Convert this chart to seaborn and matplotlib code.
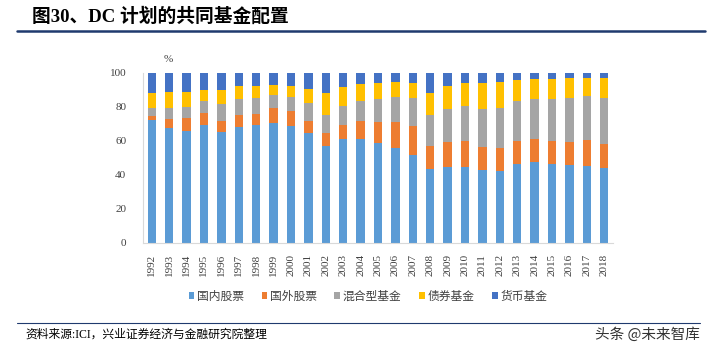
import numpy as np
import pandas as pd
import matplotlib
matplotlib.use("Agg")
import matplotlib.pyplot as plt
from matplotlib.lines import Line2D
from matplotlib.patches import Patch
import seaborn as sns

# ---------------------------
# Data (%)
# ---------------------------
years = [str(y) for y in range(1992, 2019)]
domestic = [72.1, 67.8, 65.8, 69.3, 65.2, 68.0, 69.2, 70.3, 68.8, 64.3, 57.2, 61.0, 61.0, 58.6,
            55.9, 51.8, 43.7, 44.5, 44.9, 43.1, 42.4, 46.5, 47.5, 46.5, 45.7, 45.3, 44.3]
foreign = [2.7, 5.1, 7.8, 6.9, 6.7, 7.2, 6.6, 8.8, 8.8, 7.6, 7.6, 8.3, 10.7, 12.5,
           15.2, 17.0, 13.3, 14.9, 14.9, 13.2, 13.1, 13.5, 13.4, 13.5, 13.9, 15.3, 14.1]
hybrid = [4.3, 6.6, 6.3, 7.2, 9.8, 9.4, 9.4, 7.8, 8.3, 10.2, 10.4, 11.4, 11.7, 13.5,
          14.7, 16.4, 18.2, 19.5, 20.9, 22.2, 23.6, 23.6, 23.5, 24.8, 25.8, 25.9, 26.8]
bond = [8.8, 9.0, 8.6, 6.5, 8.2, 7.6, 7.0, 5.9, 6.3, 8.2, 12.7, 10.7, 10.2, 9.6,
        8.9, 8.8, 13.1, 13.5, 13.5, 15.5, 15.6, 12.1, 11.9, 11.3, 11.3, 10.4, 11.5]
money = [12.1, 11.5, 11.5, 10.1, 10.1, 7.8, 7.8, 7.2, 7.8, 9.7, 12.1, 8.6, 6.4, 5.8,
         5.3, 6.0, 11.7, 7.6, 5.8, 6.0, 5.3, 4.3, 3.7, 3.9, 3.3, 3.1, 3.3]

series_names = ["国内股票", "国外股票", "混合型基金", "债券基金", "货币基金"]
colors = ["#5B9BD5", "#ED7D31", "#A5A5A5", "#FFC000", "#4472C4"]

df = pd.DataFrame({"year": years, "国内股票": domestic, "国外股票": foreign,
                   "混合型基金": hybrid, "债券基金": bond, "货币基金": money})
cum = df[series_names].cumsum(axis=1)

# ---------------------------
# Figure
# ---------------------------
sns.set_theme(style="white")
plt.rcParams["font.family"] = ["Liberation Serif", "Noto Sans CJK SC", "DejaVu Sans"]

fig = plt.figure(figsize=(7.1, 3.56), dpi=100)
ax = fig.add_axes([143 / 710, 1 - 243 / 356, 470 / 710, (243 - 72.7) / 356])

# stacked bars: draw cumulative totals from the top layer down
for name, col in reversed(list(zip(series_names, colors))):
    sns.barplot(x=df["year"], y=cum[name], color=col, width=0.48, linewidth=0,
                saturation=1, ax=ax)

ax.set_ylim(0, 100)
ax.set_xlim(-0.5, len(years) - 0.5)
ax.set_yticks([0, 20, 40, 60, 80, 100])
ax.set_xlabel("")
ax.set_ylabel("")
ax.tick_params(axis="y", labelsize=8, pad=12, length=0, colors="#404040")
ax.tick_params(axis="x", labelsize=8, pad=8, length=0, rotation=90, colors="#404040")
for s in ["top", "right"]:
    ax.spines[s].set_visible(False)
for s in ["left", "bottom"]:
    ax.spines[s].set_color("#D9D9D9")
    ax.spines[s].set_linewidth(0.8)

fig.text(168 / 710, 1 - 59 / 356, "%", fontsize=8, ha="center", va="center", color="#404040")

# legend
handles = [Patch(facecolor=c, edgecolor="none") for c in colors]
fig.legend(handles, series_names, loc="center", bbox_to_anchor=(368 / 710, 1 - 297 / 356),
           ncol=5, frameon=False, fontsize=8.5, handlelength=0.5, handleheight=0.5,
           handletextpad=0.2, columnspacing=1.5, labelcolor="#404040")

# title and header line
fig.text(32 / 710, 1 - 17 / 356, "图30、DC 计划的共同基金配置", fontsize=13.5, fontweight="bold",
         ha="left", va="center", color="#000000")
fig.add_artist(Line2D([17 / 710, 705 / 710], [1 - 31 / 356, 1 - 31 / 356],
                      color="#1F3A6E", linewidth=1.8))

# footer
fig.add_artist(Line2D([17 / 710, 700 / 710], [1 - 323 / 356, 1 - 323 / 356],
                      color="#1F3A6E", linewidth=0.8))
fig.text(25 / 710, 1 - 335 / 356, "资料来源:ICI，兴业证券经济与金融研究院整理", fontsize=8.5,
         ha="left", va="center", color="#000000")
fig.text(700 / 710, 1 - 335 / 356, "头条 @未来智库", fontsize=10.5, ha="right", va="center",
         color="#333333", family=["Noto Sans CJK SC", "DejaVu Sans"])

fig.savefig("out.png", dpi=100)
